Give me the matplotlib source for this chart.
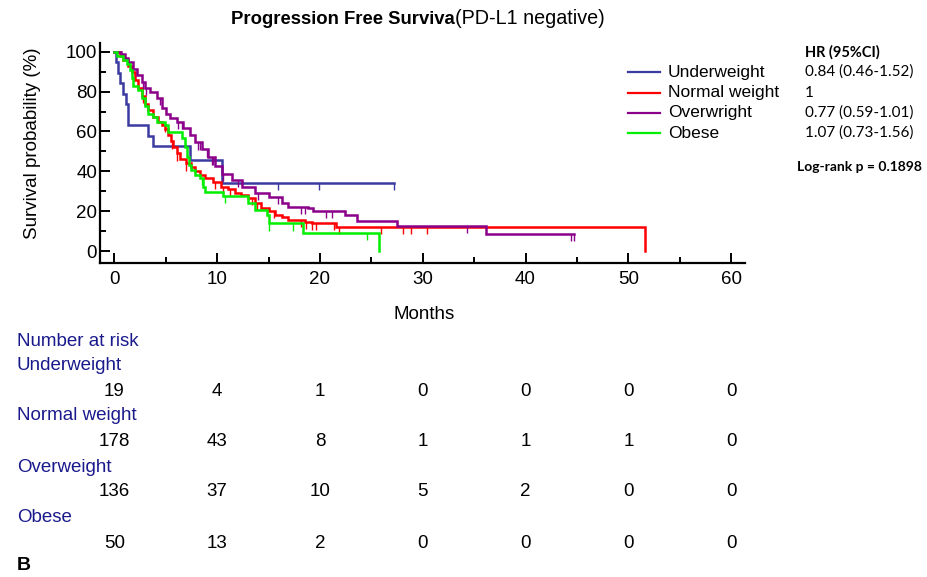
import matplotlib
matplotlib.use('Agg')
import matplotlib.pyplot as plt
import matplotlib.transforms as mtransforms
from matplotlib.lines import Line2D
from matplotlib.ticker import MultipleLocator
import numpy as np

plt.rcParams['font.family'] = ['Liberation Sans', 'DejaVu Sans']

# groups, colours, hazard ratios
groups = ['Underweight', 'Normal weight', 'Overwright', 'Obese']
table_names = ['Underweight', 'Normal weight', 'Overweight', 'Obese']
colors = ['#3a3aa0', '#ff0000', '#8b008b', '#00ee00']
hr_text = ['0.84 (0.46-1.52)', '1', '0.77 (0.59-1.01)', '1.07 (0.73-1.56)']

# Kaplan-Meier steps (months, % surviving)
under_t = [0, 0.17, 0.35, 0.55, 0.87, 1.1, 1.36, 3.3, 3.8, 7.35, 10.5, 27.2]
under_s = [100, 94.7, 89.5, 84.2, 78.9, 73.7, 63.2, 57.9, 52.6, 45.5, 34.0, 34.0]
under_cens = [15.9, 19.9, 27.2]

normal_t = [0, 0.55, 0.87, 1.36, 1.69, 2.0, 2.33, 2.66, 2.98, 3.3, 3.79, 4.28,
            4.6, 4.92, 5.25, 5.5, 5.73, 6.06, 6.38, 7.0, 7.5, 7.83, 8.3, 8.8,
            9.6, 10.4, 11.05, 11.7, 12.35, 13.0, 13.7, 14.3, 15.0, 15.6, 16.3,
            16.9, 18.5, 19.2, 21.6, 51.6]
normal_s = [100, 98, 96, 93, 90, 86, 82, 78, 74, 71, 67.5, 65, 63.3, 61, 58,
            55, 52.4, 49, 46, 44, 42, 40, 38, 36.5, 34.5, 32.3, 31, 29, 28,
            26.5, 24, 21.4, 20, 18.1, 17, 15.6, 14.7, 14, 12, 0]
normal_cens = [2.8, 4.9, 5.6, 6.1, 7.0, 9.8, 10.6, 11.25, 13.4, 13.85, 15.5,
               18.2, 18.6, 19.2, 19.6, 21.4, 21.9, 25.9, 28.1, 28.9, 30.4]

over_t = [0, 0.6, 1.0, 1.36, 1.85, 2.2, 2.66, 2.98, 3.47, 4.1, 4.6, 5.0, 5.4,
          6.07, 6.7, 7.35, 7.83, 8.49, 9.13, 9.78, 10.43, 11.4, 12.4, 13.7,
          15.0, 16.3, 16.9, 18.8, 19.3, 22.4, 23.6, 27.5, 36.2, 44.7]
over_s = [100, 99, 97, 95, 91.6, 88.3, 85, 81.7, 80, 76.7, 72, 69, 67, 65,
          61.5, 58, 54.5, 51, 47, 42.5, 38.5, 35.7, 32.3, 29, 27.3, 24, 22.3,
          21.4, 20.3, 18.1, 15.2, 12.7, 8.5, 8.5]
over_cens = [2.8, 3.1, 4.4, 6.2, 6.6, 8.1, 8.3, 9.0, 9.5, 9.6, 10.6, 12.0,
             14.0, 15.9, 18.2, 18.5, 20.6, 21.2, 34.3, 44.4, 44.7]

obese_t = [0, 0.3, 0.87, 1.2, 1.5, 1.7, 1.85, 2.33, 2.66, 2.98, 3.3, 3.8, 4.1,
           4.9, 5.25, 6.6, 6.85, 7.05, 7.25, 7.45, 7.8, 8.3, 8.64, 8.8, 10.6,
           13.0, 13.7, 14.8, 15.0, 18.35, 25.7]
obese_s = [100, 98, 96, 94, 91, 87, 83, 81, 77, 73, 69, 67.5, 65, 63.3, 59.5,
           56.6, 52, 47, 43, 40.5, 38.2, 36.5, 32.3, 29.5, 27.6, 24, 20.6,
           18.1, 13.9, 9.2, 0]
obese_cens = [8.5, 10.8, 15.0, 17.4, 24.6]

# number at risk table
risk_months = [0, 10, 20, 30, 40, 50, 60]
risk_under = [19, 4, 1, 0, 0, 0, 0]
risk_normal = [178, 43, 8, 1, 1, 1, 0]
risk_over = [136, 37, 10, 5, 2, 0, 0]
risk_obese = [50, 13, 2, 0, 0, 0, 0]

curves = [(under_t, under_s, under_cens),
          (normal_t, normal_s, normal_cens),
          (over_t, over_s, over_cens),
          (obese_t, obese_s, obese_cens)]
risks = [risk_under, risk_normal, risk_over, risk_obese]

W, H = 927, 577
fig = plt.figure(figsize=(W / 100, H / 100), dpi=100)
ax = fig.add_axes([100 / W, 1 - 263 / H, 645 / W, 220 / H])

for (t, s, cens), c in zip(curves, colors):
    t = np.array(t)
    s = np.array(s)
    ax.step(t, s, where='post', color=c, lw=1.8, solid_joinstyle='miter')
    cens = np.array(cens)
    idx = np.searchsorted(t, cens, side='right') - 1
    sv = s[np.clip(idx, 0, len(s) - 1)]
    ax.vlines(cens, sv - 3.6, sv, color=c, lw=1.0)

ax.set_xlim(-1.4, 61.35)
ax.set_ylim(-6, 104.4)
ax.xaxis.set_minor_locator(MultipleLocator(5))
ax.yaxis.set_minor_locator(MultipleLocator(10))
ax.set_yticks(np.arange(0, 101, 20))
ax.set_xticks(np.arange(0, 61, 10))
ax.tick_params(which='both', direction='in', width=1.4, labelsize=13.5)
ax.tick_params(which='major', length=7)
ax.tick_params(which='minor', length=4)
ax.tick_params(axis='y', pad=2)
ax.tick_params(axis='x', pad=6)
for side in ['top', 'right']:
    ax.spines[side].set_visible(False)
for side in ['left', 'bottom']:
    ax.spines[side].set_linewidth(1.6)

fig.text(424 / W, 1 - 315 / H, 'Months', ha='center', va='center', fontsize=13.5)
fig.text(33 / W, 1 - 143 / H, 'Survival probability (%)', rotation=90,
         ha='center', va='center', fontsize=13.5)

# title, bold part + regular part
fig.text(455 / W, 1 - 19 / H, 'Progression Free Surviva', ha='right',
         va='center', fontsize=13.3, fontweight='bold')
fig.text(455 / W, 1 - 19 / H, '(PD-L1 negative)', ha='left', va='center',
         fontsize=14.2)

# legend and hazard ratios
leg_y = [72, 93, 113, 133]
for name, c, hr, y in zip(groups, colors, hr_text, leg_y):
    fig.add_artist(Line2D([628 / W, 660 / W], [1 - y / H, 1 - y / H],
                          color=c, lw=1.6))
    fig.text(668 / W, 1 - y / H, name, ha='left', va='center', fontsize=12.5)
    fig.text(805 / W, 1 - y / H, hr, ha='left', va='center', fontsize=11,
             family='Lato')
fig.text(805 / W, 1 - 52 / H, 'HR (95%CI)', ha='left', va='center',
         fontsize=10.5, family='Lato', fontweight='bold')
fig.text(797 / W, 1 - 167 / H, 'Log-rank p = 0.1898', ha='left', va='center',
         fontsize=10, family='Lato', fontweight='bold')

# number at risk
navy = '#1a1a8c'
trans = mtransforms.blended_transform_factory(ax.transData, fig.transFigure)
fig.text(17 / W, 1 - 341 / H, 'Number at risk', ha='left', va='center',
         fontsize=13.5, color=navy)
name_y = [366, 416, 467, 518]
num_y = [391, 442, 492, 544]
for name, r, ny, my in zip(table_names, risks, name_y, num_y):
    fig.text(17 / W, 1 - ny / H, name, ha='left', va='center', fontsize=13.5,
             color=navy)
    for m, v in zip(risk_months, r):
        ax.text(m, 1 - my / H, str(v), transform=trans, ha='center',
                va='center', fontsize=13.5, clip_on=False)

fig.text(17 / W, 1 - 566 / H, 'B', ha='left', va='center', fontsize=14,
         fontweight='bold')

fig.savefig('out.png', dpi=100)
